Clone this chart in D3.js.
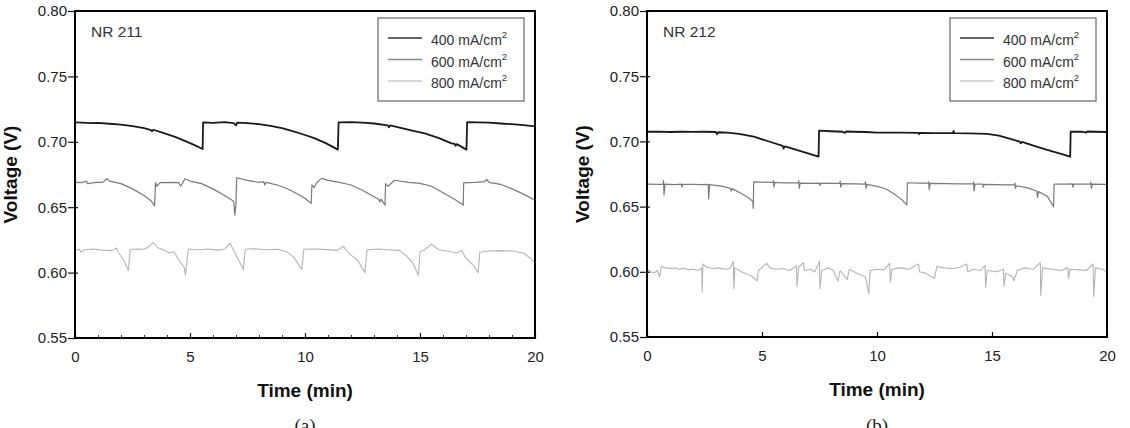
<!DOCTYPE html>
<html>
<head>
<meta charset="utf-8">
<script src="https://cdn.jsdelivr.net/npm/d3@7"></script>
<style>
html,body{margin:0;padding:0;background:#fff;}
svg{display:block;}
</style>
</head>
<body>
<svg id="chart" width="1130" height="428"></svg>
<script>
// ---- data ----
const seriesNames = ["400 mA/cm", "600 mA/cm", "800 mA/cm"];
const panelLabels = ["NR 211", "NR 212"];
const subLabels = ["(a)", "(b)"];
const xTicks = [0, 5, 10, 15, 20];
const xMinorTicks = [1,2,3,4,6,7,8,9,11,12,13,14,16,17,18,19];
const yTicks = [0.55, 0.60, 0.65, 0.70, 0.75, 0.80];
const xDomain = [0, 20];
const yDomain = [0.55, 0.80];

// NR 211
const a400 = [[0,0.7148],[0.3,0.7146],[0.7,0.7143],[1.0,0.7145],[1.5,0.7138],[2.0,0.7132],[2.5,0.7120],[3.0,0.7105],[3.3,0.7090],[3.35,0.7080],[3.4,0.7092],[3.8,0.7070],[4.35,0.7038],[4.8,0.7005],[5.2,0.6975],[5.55,0.6945],[5.57,0.7148],[6.0,0.7145],[6.5,0.7150],[6.9,0.7143],[7.0,0.7125],[7.05,0.7146],[7.5,0.7142],[8.0,0.7135],[8.5,0.7122],[9.0,0.7105],[9.5,0.7080],[10.0,0.7052],[10.43,0.7026],[10.9,0.6990],[11.43,0.6940],[11.46,0.7148],[12.0,0.7150],[12.5,0.7146],[13.0,0.7140],[13.6,0.7125],[13.65,0.7110],[13.7,0.7126],[14.3,0.7100],[14.8,0.7080],[15.2,0.7064],[15.8,0.7030],[16.37,0.6988],[16.5,0.6985],[16.55,0.6970],[16.6,0.6982],[17.02,0.6940],[17.05,0.7150],[17.5,0.7148],[18.0,0.7146],[18.5,0.7140],[19.0,0.7135],[19.5,0.7128],[20.0,0.7118]];
const a600 = [[0,0.6690],[0.3,0.6688],[0.5,0.6700],[0.55,0.6680],[0.9,0.6690],[1.2,0.6690],[1.38,0.6718],[1.5,0.6700],[2.0,0.6680],[2.5,0.6640],[3.0,0.6590],[3.3,0.6550],[3.46,0.6510],[3.5,0.6690],[3.55,0.6660],[3.7,0.6688],[4.2,0.6690],[4.5,0.6688],[4.6,0.6660],[4.78,0.6718],[5.0,0.6700],[5.5,0.6680],[6.0,0.6640],[6.5,0.6590],[6.9,0.6545],[6.95,0.6440],[7.0,0.6530],[7.03,0.6725],[7.5,0.6705],[8.0,0.6690],[8.2,0.6695],[8.25,0.6670],[8.3,0.6690],[8.8,0.6670],[9.3,0.6635],[9.8,0.6590],[10.0,0.6567],[10.27,0.6530],[10.3,0.6670],[10.4,0.6650],[10.5,0.6685],[10.72,0.6720],[11.0,0.6705],[11.5,0.6690],[12.0,0.6670],[12.5,0.6630],[13.0,0.6580],[13.2,0.6560],[13.25,0.6540],[13.3,0.6562],[13.48,0.6516],[13.5,0.6680],[13.6,0.6660],[13.9,0.6706],[14.5,0.6690],[15.0,0.6682],[15.5,0.6660],[16.0,0.6610],[16.5,0.6560],[16.88,0.6516],[16.9,0.6686],[17.4,0.6690],[17.8,0.6695],[17.9,0.6712],[18.0,0.6690],[18.5,0.6675],[19.0,0.6640],[19.5,0.6600],[20.0,0.6554]];
const a800 = [[0,0.6170],[0.2,0.6178],[0.25,0.6155],[0.4,0.6175],[0.8,0.6180],[1.2,0.6172],[1.6,0.6168],[1.8,0.6188],[1.9,0.6150],[2.1,0.6100],[2.32,0.6018],[2.4,0.6175],[2.7,0.6180],[3.0,0.6178],[3.2,0.6195],[3.4,0.6230],[3.6,0.6190],[3.9,0.6170],[4.1,0.6150],[4.3,0.6160],[4.5,0.6100],[4.75,0.6040],[4.8,0.5980],[4.85,0.6060],[4.93,0.6180],[5.3,0.6175],[5.8,0.6180],[6.2,0.6172],[6.5,0.6180],[6.74,0.6224],[6.9,0.6170],[7.1,0.6100],[7.32,0.6025],[7.4,0.6178],[7.8,0.6182],[8.3,0.6175],[8.8,0.6178],[9.2,0.6160],[9.5,0.6120],[9.86,0.6025],[9.95,0.6178],[10.5,0.6180],[11.0,0.6176],[11.4,0.6170],[11.67,0.6200],[11.9,0.6150],[12.3,0.6090],[12.6,0.6000],[12.7,0.6175],[13.2,0.6180],[13.6,0.6175],[14.1,0.6170],[14.4,0.6130],[14.7,0.6070],[14.93,0.5980],[15.0,0.6160],[15.2,0.6175],[15.5,0.6218],[15.8,0.6175],[16.2,0.6165],[16.6,0.6150],[16.8,0.6170],[17.0,0.6110],[17.3,0.6060],[17.53,0.6000],[17.6,0.6155],[18.0,0.6165],[18.5,0.6168],[19.0,0.6165],[19.5,0.6150],[19.8,0.6110],[20.0,0.6070]];

// NR 212
const b400 = [[0,0.7074],[0.5,0.7075],[1.0,0.7072],[1.5,0.7074],[2.0,0.7073],[2.5,0.7074],[3.0,0.7072],[3.04,0.7055],[3.1,0.7070],[3.5,0.7068],[4.0,0.7058],[4.64,0.7036],[5.2,0.7005],[5.9,0.6965],[5.94,0.6945],[6.0,0.6962],[6.5,0.6935],[7.0,0.6908],[7.46,0.6883],[7.48,0.7082],[8.0,0.7078],[8.5,0.7074],[8.6,0.7065],[8.65,0.7076],[9.0,0.7074],[9.5,0.7072],[10.0,0.7068],[10.5,0.7068],[11.0,0.7067],[11.8,0.7066],[11.83,0.7055],[11.86,0.7066],[12.5,0.7064],[13.3,0.7064],[13.33,0.7080],[13.36,0.7063],[14.0,0.7062],[14.78,0.7058],[15.3,0.7045],[15.8,0.7020],[16.2,0.6998],[16.25,0.6985],[16.3,0.6996],[16.8,0.6968],[17.4,0.6935],[18.0,0.6905],[18.4,0.6883],[18.42,0.7074],[18.9,0.7075],[19.1,0.7068],[19.15,0.7076],[19.5,0.7074],[20.0,0.7072]];
const b600 = [[0,0.6672],[0.5,0.6670],[0.7,0.6672],[0.72,0.6700],[0.74,0.6590],[0.78,0.6672],[1.2,0.6668],[1.5,0.6672],[1.52,0.6650],[1.56,0.6670],[2.0,0.6670],[2.4,0.6668],[2.66,0.6670],[2.68,0.6560],[2.72,0.6668],[2.9,0.6665],[3.3,0.6655],[3.62,0.6640],[3.66,0.6620],[3.7,0.6638],[4.1,0.6600],[4.4,0.6570],[4.6,0.6540],[4.62,0.6487],[4.64,0.6690],[5.0,0.6688],[5.48,0.6686],[5.5,0.6700],[5.52,0.6650],[5.56,0.6685],[6.0,0.6682],[6.58,0.6682],[6.6,0.6700],[6.62,0.6640],[6.66,0.6680],[7.2,0.6678],[7.5,0.6680],[7.52,0.6660],[7.56,0.6678],[8.38,0.6678],[8.4,0.6695],[8.42,0.6650],[8.46,0.6676],[9.0,0.6674],[9.48,0.6672],[9.5,0.6690],[9.52,0.6640],[9.56,0.6670],[10.0,0.6655],[10.4,0.6635],[10.8,0.6590],[11.1,0.6550],[11.3,0.6512],[11.32,0.6683],[11.8,0.6680],[12.23,0.6680],[12.25,0.6690],[12.27,0.6630],[12.31,0.6678],[13.0,0.6676],[13.5,0.6674],[14.18,0.6674],[14.2,0.6690],[14.22,0.6620],[14.26,0.6672],[14.6,0.6672],[14.62,0.6650],[14.66,0.6670],[15.2,0.6668],[15.6,0.6666],[15.98,0.6666],[16.0,0.6680],[16.02,0.6640],[16.06,0.6660],[16.5,0.6645],[16.95,0.6620],[16.98,0.6570],[17.02,0.6615],[17.4,0.6580],[17.68,0.6500],[17.7,0.6673],[18.2,0.6673],[18.5,0.6674],[18.52,0.6650],[18.56,0.6672],[19.28,0.6672],[19.3,0.6688],[19.32,0.6640],[19.36,0.6672],[20.0,0.6670]];
const b800 = [[0,0.6020],[0.15,0.6000],[0.3,0.5990],[0.45,0.6010],[0.55,0.5960],[0.62,0.6040],[0.8,0.6030],[1.0,0.6025],[1.2,0.6030],[1.4,0.6020],[1.6,0.6028],[1.8,0.6015],[2.0,0.6022],[2.2,0.6010],[2.38,0.6030],[2.4,0.5845],[2.43,0.6060],[2.6,0.6035],[2.9,0.6025],[3.1,0.6030],[3.4,0.6020],[3.6,0.6025],[3.75,0.6080],[3.78,0.5870],[3.82,0.6030],[4.1,0.6000],[4.4,0.5980],[4.6,0.5960],[4.78,0.5930],[4.85,0.6010],[5.2,0.6065],[5.35,0.6030],[5.6,0.6020],[5.9,0.6025],[6.2,0.6010],[6.5,0.6045],[6.52,0.5890],[6.6,0.6035],[6.8,0.6070],[6.85,0.6010],[7.1,0.6020],[7.3,0.6000],[7.5,0.6080],[7.52,0.5870],[7.6,0.6010],[7.9,0.6030],[8.1,0.6010],[8.3,0.5930],[8.4,0.6010],[8.7,0.5940],[8.8,0.6020],[9.0,0.6000],[9.3,0.5975],[9.5,0.5960],[9.64,0.5830],[9.7,0.6010],[10.0,0.6020],[10.3,0.6015],[10.55,0.6065],[10.58,0.5920],[10.65,0.6020],[11.0,0.6030],[11.4,0.6020],[11.8,0.6060],[11.85,0.6000],[12.1,0.5990],[12.3,0.5970],[12.5,0.5950],[12.6,0.6040],[12.9,0.6030],[13.3,0.6025],[13.6,0.6035],[13.9,0.6060],[13.95,0.6000],[14.2,0.6020],[14.5,0.6010],[14.7,0.6050],[14.72,0.5880],[14.8,0.6010],[15.2,0.6000],[15.5,0.6020],[15.52,0.5890],[15.6,0.5990],[15.9,0.5960],[15.95,0.5930],[16.1,0.6010],[16.4,0.6030],[16.8,0.6020],[17.1,0.6070],[17.12,0.5820],[17.2,0.6030],[17.6,0.6020],[18.0,0.6010],[18.3,0.6030],[18.32,0.5950],[18.4,0.6020],[18.8,0.6015],[19.1,0.6010],[19.4,0.6060],[19.42,0.5810],[19.5,0.6030],[19.8,0.6020],[20.0,0.6000]];

// ---- drawing ----
const svg = d3.select("#chart");
const FONT = "'Liberation Sans', Arial, sans-serif";
const lineColors = ["#1a1a1a", "#7a7a7a", "#b4b4b4"];
const lineWidths = [1.8, 1.2, 1.1];
const legendColors = ["#333", "#8a8a8a", "#c8c8c8"];

const panels = [
  {left: 75, right: 535, top: 11, bottom: 338, data: [a400, a600, a800], minor: true},
  {left: 647, right: 1107, top: 11, bottom: 337, data: [b400, b600, b800], minor: false}
];

panels.forEach((p, pi) => {
  const x = d3.scaleLinear().domain(xDomain).range([p.left, p.right]);
  const y = d3.scaleLinear().domain(yDomain).range([p.bottom, p.top]);
  const g = svg.append("g");

  const clipId = "clip" + pi;
  svg.append("clipPath").attr("id", clipId).append("rect")
    .attr("x", p.left).attr("y", p.top)
    .attr("width", p.right - p.left).attr("height", p.bottom - p.top);

  // lines (draw lighter first)
  const line = d3.line().x(d => x(d[0])).y(d => y(d[1]));
  [2, 1, 0].forEach(si => {
    g.append("path")
      .datum(p.data[si])
      .attr("clip-path", `url(#${clipId})`)
      .attr("fill", "none")
      .attr("stroke", lineColors[si])
      .attr("stroke-width", lineWidths[si])
      .attr("stroke-linejoin", "round")
      .attr("d", line);
  });

  // x axis
  const xAxis = g.append("g")
    .attr("transform", `translate(0,${p.bottom})`)
    .call(d3.axisBottom(x).tickValues(xTicks).tickSize(-5).tickPadding(13).tickFormat(d3.format("d")));
  xAxis.select(".domain").remove();
  xAxis.selectAll("line").attr("stroke", "#111").attr("stroke-width", 1.2);
  xAxis.selectAll("text").attr("font-family", FONT).attr("font-size", 15).attr("fill", "#222");

  if (p.minor) {
    const xm = g.append("g")
      .attr("transform", `translate(0,${p.bottom})`)
      .call(d3.axisBottom(x).tickValues(xMinorTicks).tickSize(-3).tickFormat(""));
    xm.select(".domain").remove();
    xm.selectAll("line").attr("stroke", "#333").attr("stroke-width", 1);
  }

  // y axis
  const yAxis = g.append("g")
    .attr("transform", `translate(${p.left},0)`)
    .call(d3.axisLeft(y).tickValues(yTicks).tickSize(7).tickPadding(1).tickFormat(d3.format(".2f")));
  yAxis.select(".domain").remove();
  yAxis.selectAll("line").attr("x1", 3).attr("stroke", "#111").attr("stroke-width", 1.2);
  yAxis.selectAll("text").attr("font-family", FONT).attr("font-size", 15).attr("fill", "#222");

  // frame
  g.append("rect")
    .attr("x", p.left).attr("y", p.top)
    .attr("width", p.right - p.left).attr("height", p.bottom - p.top)
    .attr("fill", "none").attr("stroke", "#000").attr("stroke-width", 2);

  // panel label
  g.append("text")
    .attr("x", p.left + 16).attr("y", p.top + 26)
    .attr("font-family", FONT).attr("font-size", 15.5).attr("fill", "#333")
    .text(panelLabels[pi]);

  // legend
  const lx = p.right - 157, ly = p.top + 7, lw = 146, lh = 83;
  g.append("rect").attr("x", lx).attr("y", ly).attr("width", lw).attr("height", lh)
    .attr("fill", "#fff").attr("stroke", "#666").attr("stroke-width", 1.2);
  seriesNames.forEach((name, si) => {
    const ry = ly + 20 + si * 21.5;
    g.append("line").attr("x1", lx + 10).attr("x2", lx + 44)
      .attr("y1", ry).attr("y2", ry)
      .attr("stroke", legendColors[si]).attr("stroke-width", 1.3);
    const t = g.append("text")
      .attr("x", lx + 53).attr("y", ry + 7)
      .attr("font-family", FONT).attr("font-size", 14).attr("fill", "#333");
    t.append("tspan").text(name);
    t.append("tspan").attr("font-size", 9.5).attr("dy", -7).text("2");
  });

  // axis titles
  const cx = (p.left + p.right) / 2, cy = (p.top + p.bottom) / 2;
  g.append("text")
    .attr("x", cx).attr("y", p.bottom + 59)
    .attr("text-anchor", "middle")
    .attr("font-family", FONT).attr("font-weight", "bold").attr("font-size", 19).attr("fill", "#111")
    .text("Time (min)");
  g.append("text")
    .attr("transform", `translate(${p.left - 58},${cy}) rotate(-90)`)
    .attr("text-anchor", "middle")
    .attr("font-family", FONT).attr("font-weight", "bold").attr("font-size", 19).attr("fill", "#111")
    .text("Voltage (V)");

  // sub label
  g.append("text")
    .attr("x", cx).attr("y", 432)
    .attr("text-anchor", "middle")
    .attr("font-family", "'Liberation Serif', 'Times New Roman', serif").attr("font-size", 19).attr("fill", "#222")
    .text(subLabels[pi]);
});
</script>
</body>
</html>
